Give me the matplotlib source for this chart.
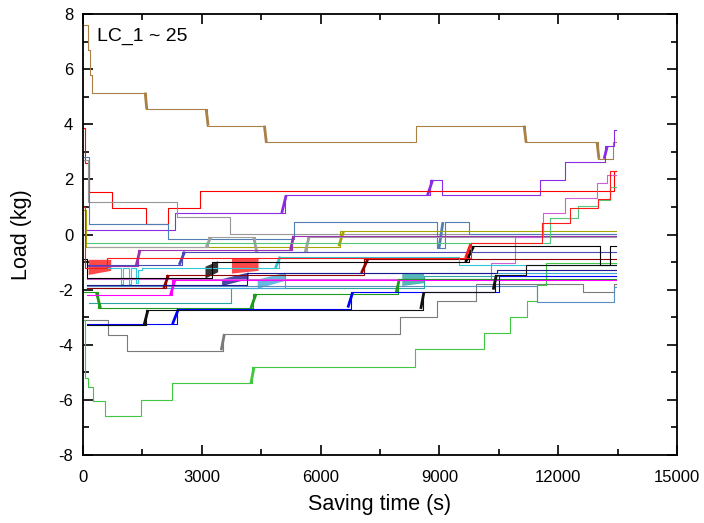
import matplotlib
matplotlib.use("Agg")
import matplotlib.pyplot as plt
from matplotlib.ticker import MultipleLocator

plt.rcParams['font.family'] = ['Liberation Sans', 'DejaVu Sans']
plt.rcParams['axes.unicode_minus'] = False

# ========== DATA (saving time in s, load in kg) ==========
# step break points: value holds from t[i] to t[i+1]
t_tan = [0, 75, 125, 175, 230, 1590, 3130, 4600, 8410, 11160, 13000, 13380, 13450]
v_tan = [7.6, 7.6, 6.7, 5.8, 5.15, 4.55, 3.95, 3.35, 3.95, 3.35, 2.75, 3.35, 3.35]

t_purple = [80, 2320, 5100, 8760, 9070, 11540, 12170, 13180, 13400, 13450]
v_purple = [0.16, 0.78, 1.42, 1.98, 1.43, 1.98, 2.63, 3.2, 3.8, 3.8]

t_red1 = [0, 60, 150, 730, 1590, 2150, 2950, 13400, 13450]
v_red1 = [3.86, 2.6, 1.54, 0.96, 0.38, 0.96, 1.58, 2.3, 2.3]

t_gray1 = [0, 120, 2370, 3710, 13450]
v_gray1 = [2.7, 1.18, 0.62, 0.03, 0.03]

t_steel1 = [0, 150, 2150, 5330, 8950, 9150, 9750, 13450]
v_steel1 = [2.8, 0.38, -0.17, 0.45, -0.5, 0.45, 0.03, 0.03]

t_olive = [0, 80, 6500, 13450]
v_olive = [0.9, -0.45, 0.12, 0.12]

t_gray2 = [100, 3150, 4350, 5650, 13450]
v_gray2 = [-0.45, -0.1, -0.64, -0.1, -0.1]

t_orchid2 = [100, 1390, 5280, 13450]
v_orchid2 = [-1.15, -0.56, -0.05, -0.05]

t_red2 = [0, 60, 600, 9650, 9800, 11600, 12300, 13000, 13300, 13450]
v_red2 = [1.0, -1.2, -0.85, -0.85, -0.3, 0.42, 0.96, 1.3, 2.3, 2.3]

t_black1 = [0, 100, 3250, 9750, 12950, 13050, 13200, 13300, 13450]
v_black1 = [-0.9, -1.58, -1.0, -0.42, -0.42, -1.1, -1.1, -0.42, -0.42]

t_slate = [100, 2500, 13450]
v_slate = [-1.1, -0.62, -0.62]

t_cyan = [100, 950, 1000, 1150, 1200, 1350, 1400, 1500, 4950, 9500, 13450]
v_cyan = [-1.22, -1.8, -1.22, -1.8, -1.22, -1.75, -1.3, -1.22, -0.8, -1.1, -1.1]

t_maroon = [100, 2100, 7100, 13450]
v_maroon = [-1.94, -1.47, -0.9, -0.9]

t_magenta = [100, 2250, 13450]
v_magenta = [-2.2, -1.65, -1.65]

t_navy = [100, 4150, 10450, 13450]
v_navy = [-1.83, -1.4, -1.3, -1.3]

t_sky = [100, 5100, 13450]
v_sky = [-1.94, -1.4, -1.4]

t_teal = [150, 3740, 8600, 13450]
v_teal = [-2.48, -1.94, -1.5, -1.5]

t_green = [0, 380, 4300, 7950, 13450]
v_green = [-2.1, -2.67, -2.16, -1.62, -1.62]

t_blue = [100, 2380, 6760, 10500, 13450]
v_blue = [-3.25, -2.7, -2.08, -1.5, -1.5]

t_black2 = [100, 1600, 8580, 10400, 11200, 13450]
v_black2 = [-3.3, -2.74, -2.09, -1.47, -1.1, -1.1]

t_gray3 = [0, 630, 1110, 3530, 8010, 8940, 9920, 12630, 13420, 13450]
v_gray3 = [-3.1, -3.65, -4.23, -3.61, -2.99, -2.41, -1.8, -2.09, -1.8, -1.8]

t_steel2 = [100, 11460, 13420, 13450]
v_steel2 = [-1.85, -2.45, -1.9, -1.9]

t_lgreen = [0, 40, 120, 250, 550, 1460, 2250, 4270, 8380, 10120, 10780, 11210, 11470, 11680, 13450]
v_lgreen = [-3.1, -5.2, -5.55, -6.05, -6.59, -6.0, -5.39, -4.81, -4.16, -3.57, -3.0, -2.4, -1.83, -1.05, -1.05]

t_orchid = [100, 10300, 10900, 11620, 12170, 12980, 13230, 13450]
v_orchid = [-1.6, -1.05, -0.1, 0.78, 1.32, 1.87, 2.15, 2.15]

t_seagreen = [100, 11800, 12500, 13000, 13300, 13450]
v_seagreen = [-0.3, 0.6, 1.05, 1.25, 1.72, 1.72]

# noisy, near-vertical transitions: (t0, t1, v0, v1)
ramps_tan = [(1570, 1610, 5.15, 4.55), (3110, 3160, 4.55, 3.95), (4580, 4630, 3.95, 3.35),
             (11140, 11190, 3.95, 3.35), (12980, 13030, 3.35, 2.75)]
ramps_purple = [(5020, 5130, 0.78, 1.42), (8700, 8830, 1.42, 1.98), (13160, 13240, 2.75, 3.2)]
ramps_steel1 = [(8990, 9090, -0.5, 0.45)]
ramps_olive = [(6460, 6580, -0.42, 0.12)]
ramps_gray2 = [(3110, 3230, -0.45, -0.1), (4310, 4390, -0.1, -0.64), (5610, 5710, -0.64, -0.1)]
ramps_orchid2 = [(1340, 1440, -1.15, -0.56), (5240, 5320, -0.56, -0.05)]
ramps_red2 = [(9660, 9790, -0.85, -0.35)]
ramps_black1 = [(9660, 9860, -1.0, -0.45)]
ramps_slate = [(2430, 2570, -1.1, -0.62)]
ramps_cyan = [(4860, 4980, -1.22, -0.8)]
ramps_maroon = [(2040, 2160, -1.94, -1.47), (7030, 7190, -1.4, -0.9)]
ramps_magenta = [(2210, 2320, -2.2, -1.65)]
ramps_green = [(340, 440, -2.1, -2.67), (4240, 4370, -2.67, -2.16), (7910, 7990, -2.1, -1.62)]
ramps_blue = [(2260, 2410, -3.25, -2.7), (6690, 6810, -2.65, -2.1)]
ramps_black2 = [(1540, 1640, -3.3, -2.74), (8530, 8610, -2.7, -2.09), (10360, 10440, -2.0, -1.47)]
ramps_gray3 = [(3490, 3570, -4.2, -3.61)]
ramps_lgreen = [(4240, 4320, -5.39, -4.81)]

# wide noisy bursts: (t0, t1, low at t0, high at t0, low at t1, high at t1)
bands_red2 = [(130, 700, -1.45, -0.9, -1.3, -0.9), (3750, 4420, -1.4, -0.85, -1.3, -0.85)]
bands_black1 = [(3080, 3400, -1.58, -1.15, -1.35, -0.95)]
bands_navy = [(3500, 4170, -1.85, -1.6, -1.6, -1.36)]
bands_sky = [(4400, 5100, -1.95, -1.62, -1.66, -1.36)]
bands_teal = [(8050, 8600, -1.85, -1.42, -1.75, -1.38)]

series = [
    (t_tan, v_tan, "#a98045", ramps_tan, []),
    (t_purple, v_purple, "#8b2be2", ramps_purple, []),
    (t_red1, v_red1, "#ff0000", [], []),
    (t_gray1, v_gray1, "#969696", [], []),
    (t_steel1, v_steel1, "#4f7fb5", ramps_steel1, []),
    (t_olive, v_olive, "#a5a500", ramps_olive, []),
    (t_gray2, v_gray2, "#a0a0a0", ramps_gray2, []),
    (t_orchid2, v_orchid2, "#9b30b0", ramps_orchid2, []),
    (t_seagreen, v_seagreen, "#50c878", [], []),
    (t_orchid, v_orchid, "#d060d8", [], []),
    (t_gray3, v_gray3, "#7a7a7a", ramps_gray3, []),
    (t_lgreen, v_lgreen, "#40c840", ramps_lgreen, []),
    (t_steel2, v_steel2, "#5b8cc0", [], []),
    (t_teal, v_teal, "#2aa5a5", [], bands_teal),
    (t_sky, v_sky, "#40a8d8", [], bands_sky),
    (t_green, v_green, "#1e9a1e", ramps_green, []),
    (t_magenta, v_magenta, "#ff00ff", ramps_magenta, []),
    (t_maroon, v_maroon, "#900000", ramps_maroon, []),
    (t_cyan, v_cyan, "#30c8d8", ramps_cyan, []),
    (t_slate, v_slate, "#4848b8", ramps_slate, []),
    (t_navy, v_navy, "#1a1a90", [], bands_navy),
    (t_blue, v_blue, "#0000ff", ramps_blue, []),
    (t_black2, v_black2, "#101010", ramps_black2, []),
    (t_black1, v_black1, "#000000", ramps_black1, bands_black1),
    (t_red2, v_red2, "#ff1a1a", ramps_red2, bands_red2),
]

# ========== PLOT ==========
fig = plt.figure(figsize=(7.04, 5.23), dpi=100)
ax = fig.add_axes([0.1179, 0.130, 0.8437, 0.8432])

for t, v, c, ramps, bands in series:
    ax.step(t, v, where="post", color=c, lw=0.8)
    for t0, t1, v0, v1 in ramps:
        ax.plot([t0, t1], [v0, v1], color=c, lw=2.0, solid_capstyle="butt")
    for t0, t1, lo0, hi0, lo1, hi1 in bands:
        ax.fill_between([t0, t1], [lo0, lo1], [hi0, hi1], color=c, lw=0, alpha=0.8)

ax.set_xlim(0, 15000)
ax.set_ylim(-8, 8)
ax.xaxis.set_major_locator(MultipleLocator(3000))
ax.xaxis.set_minor_locator(MultipleLocator(1500))
ax.yaxis.set_major_locator(MultipleLocator(2))
ax.yaxis.set_minor_locator(MultipleLocator(1))
ax.tick_params(which="both", direction="in", top=True, right=True, width=1.2, labelsize=12)
ax.tick_params(which="major", length=7)
ax.tick_params(which="minor", length=4)
ax.tick_params(axis="x", pad=11)
ax.tick_params(axis="y", pad=7)
for s in ax.spines.values():
    s.set_linewidth(1.3)

ax.set_xlabel("Saving time (s)", fontsize=15.5, labelpad=6)
ax.set_ylabel("Load (kg)", fontsize=15.5, labelpad=19)
ax.text(350, 7.2, "LC_1 ~ 25", fontsize=14, va="center", ha="left")

fig.savefig("out.png", dpi=100)
